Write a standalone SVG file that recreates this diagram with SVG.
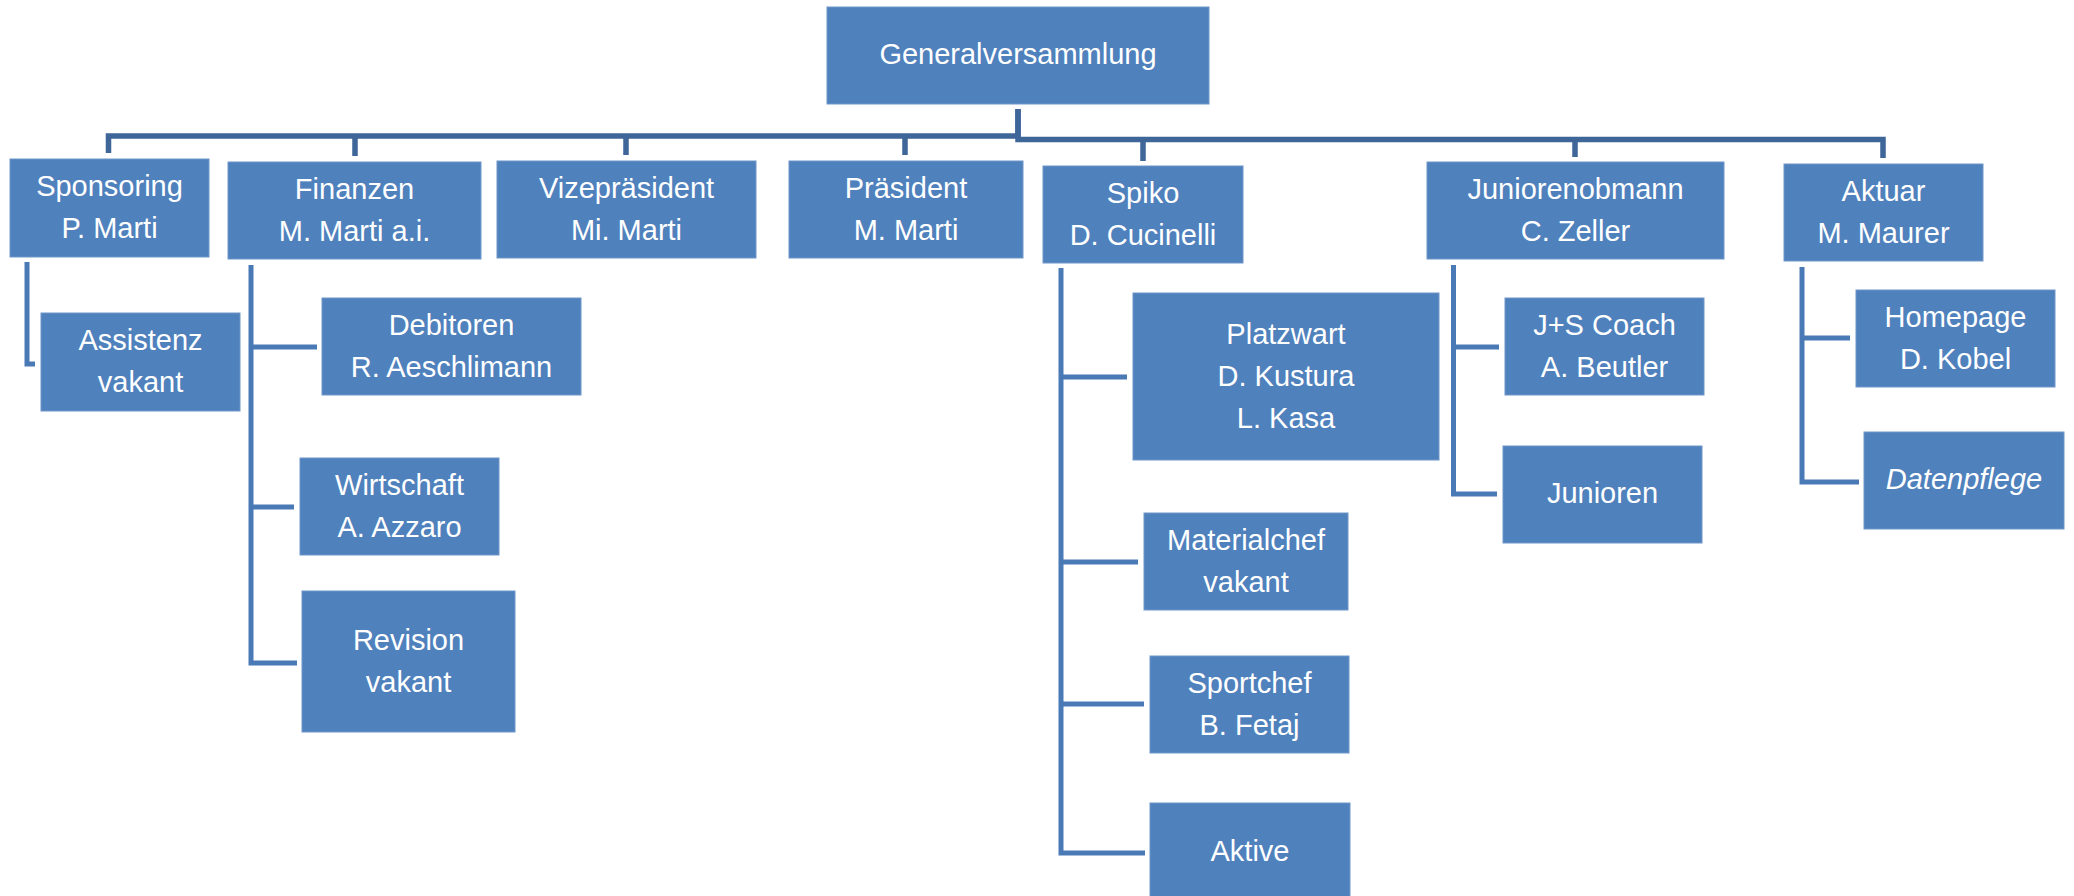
<svg xmlns="http://www.w3.org/2000/svg" width="2074" height="896" viewBox="0 0 2074 896">
<style>
.box{fill:#4F81BD;stroke:#7096C9;stroke-width:1}
.t{font-family:"Liberation Sans",Arial,sans-serif;font-size:29px;fill:#FFFFFF;text-anchor:middle}
.it{font-style:italic}
.bus{fill:none;stroke:#3E6699;stroke-width:5.5;stroke-linejoin:miter}
.sub{fill:none;stroke:#4A7AB5;stroke-width:5}
</style>
<rect width="2074" height="896" fill="#FFFFFF"/>
<g id="connectors">
<path class="bus" d="M1018,109 V136 H108.5 V153"/>
<path class="bus" d="M1018,109 V139.5 H1883 V158"/>
<path class="bus" d="M355,136 V156 M626,136 V155 M905,136 V155 M1143,139 V161 M1575,139 V157"/>
<path class="sub" d="M27,262 V364 H35"/>
<path class="sub" d="M251,265 V663 H297 M251,347 H317 M251,507 H294"/>
<path class="sub" d="M1061,268 V853 H1145 M1061,377 H1127 M1061,562 H1138 M1061,704 H1144"/>
<path class="sub" d="M1453.5,265 V494 H1497 M1453.5,347 H1499"/>
<path class="sub" d="M1802,267 V482 H1859 M1802,338 H1850"/>
</g>
<g id="generalversammlung"><rect class="box" x="827" y="7" width="382" height="97"/><text class="t" x="1018" y="64">Generalversammlung</text></g>
<g id="sponsoring"><rect class="box" x="10" y="159" width="199" height="98"/><text class="t" x="109.5" y="196">Sponsoring</text><text class="t" x="109.5" y="238">P. Marti</text></g>
<g id="finanzen"><rect class="box" x="228" y="162" width="253" height="97"/><text class="t" x="354.5" y="198.5">Finanzen</text><text class="t" x="354.5" y="240.5">M. Marti a.i.</text></g>
<g id="vizepraesident"><rect class="box" x="497" y="161" width="259" height="97"/><text class="t" x="626.5" y="197.5">Vizepräsident</text><text class="t" x="626.5" y="239.5">Mi. Marti</text></g>
<g id="praesident"><rect class="box" x="789" y="161" width="234" height="97"/><text class="t" x="906" y="197.5">Präsident</text><text class="t" x="906" y="239.5">M. Marti</text></g>
<g id="spiko"><rect class="box" x="1043" y="166" width="200" height="97"/><text class="t" x="1143" y="202.5">Spiko</text><text class="t" x="1143" y="244.5">D. Cucinelli</text></g>
<g id="juniorenobmann"><rect class="box" x="1427" y="162" width="297" height="97"/><text class="t" x="1575.5" y="198.5">Juniorenobmann</text><text class="t" x="1575.5" y="240.5">C. Zeller</text></g>
<g id="aktuar"><rect class="box" x="1784" y="164" width="199" height="97"/><text class="t" x="1883.5" y="200.5">Aktuar</text><text class="t" x="1883.5" y="242.5">M. Maurer</text></g>
<g id="assistenz"><rect class="box" x="41" y="313" width="199" height="98"/><text class="t" x="140.5" y="350">Assistenz</text><text class="t" x="140.5" y="392">vakant</text></g>
<g id="debitoren"><rect class="box" x="322" y="298" width="259" height="97"/><text class="t" x="451.5" y="334.5">Debitoren</text><text class="t" x="451.5" y="376.5">R. Aeschlimann</text></g>
<g id="wirtschaft"><rect class="box" x="300" y="458" width="199" height="97"/><text class="t" x="399.5" y="494.5">Wirtschaft</text><text class="t" x="399.5" y="536.5">A. Azzaro</text></g>
<g id="revision"><rect class="box" x="302" y="591" width="213" height="141"/><text class="t" x="408.5" y="649.5">Revision</text><text class="t" x="408.5" y="691.5">vakant</text></g>
<g id="platzwart"><rect class="box" x="1133" y="293" width="306" height="167"/><text class="t" x="1286" y="343.5">Platzwart</text><text class="t" x="1286" y="385.5">D. Kustura</text><text class="t" x="1286" y="427.5">L. Kasa</text></g>
<g id="materialchef"><rect class="box" x="1144" y="513" width="204" height="97"/><text class="t" x="1246" y="549.5">Materialchef</text><text class="t" x="1246" y="591.5">vakant</text></g>
<g id="sportchef"><rect class="box" x="1150" y="656" width="199" height="97"/><text class="t" x="1249.5" y="692.5">Sportchef</text><text class="t" x="1249.5" y="734.5">B. Fetaj</text></g>
<g id="aktive"><rect class="box" x="1150" y="803" width="200" height="97"/><text class="t" x="1250" y="860.5">Aktive</text></g>
<g id="js-coach"><rect class="box" x="1505" y="298" width="199" height="97"/><text class="t" x="1604.5" y="334.5">J+S Coach</text><text class="t" x="1604.5" y="376.5">A. Beutler</text></g>
<g id="junioren"><rect class="box" x="1503" y="446" width="199" height="97"/><text class="t" x="1602.5" y="503">Junioren</text></g>
<g id="homepage"><rect class="box" x="1856" y="290" width="199" height="97"/><text class="t" x="1955.5" y="326.5">Homepage</text><text class="t" x="1955.5" y="368.5">D. Kobel</text></g>
<g id="datenpflege"><rect class="box" x="1864" y="432" width="200" height="97"/><text class="t it" x="1964" y="489">Datenpflege</text></g>
</svg>
